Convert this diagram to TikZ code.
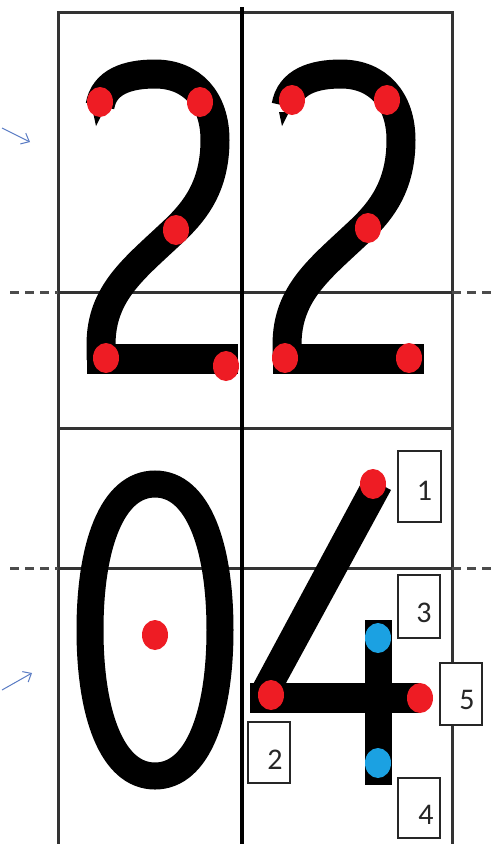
\documentclass[tikz,border=0pt]{standalone}
\usepackage{fontspec}
\setmainfont{Carlito}
\usetikzlibrary{calc,arrows.meta}
\definecolor{dotred}{HTML}{EE1C24}
\definecolor{dotblue}{HTML}{1BA1E2}
\definecolor{pen}{HTML}{5A7CC4}
\tikzset{
  gridline/.style={line width=3pt, draw=black!80},
  midline/.style={line width=3.5pt, draw=black},
  dashline/.style={line width=3pt, draw=black!70, dash pattern=on 9pt off 6pt},
  digit/.style={line width=29pt, draw=black},
  numbox/.style={draw=black!85, line width=1.6pt, fill=white, inner sep=0pt},
  numtxt/.style={font=\fontsize{30}{30}\selectfont, inner sep=0pt, text=black!85},
  penarrow/.style={draw=pen, line width=1pt, -{Straight Barb[length=7pt,width=12pt]}}
}
\newcommand\rdot[1]{\fill[dotred] #1 ellipse[x radius=13pt, y radius=15pt];}
\newcommand\bdot[1]{\fill[dotblue] #1 ellipse[x radius=13pt, y radius=15pt];}
\newcommand\twoshape{%
  \draw[digit] (100,106) .. controls (104,82) and (127,74) .. (155,74)
     .. controls (192,74) and (215,100) .. (215,140)
     .. controls (215,185) and (196,210) .. (175,230)
     .. controls (135,268) and (101,292) .. (101,345) -- (101,360);
  \fill[black] (93,112) -- (96,126) -- (103,112) -- cycle;
  \fill[black] (87,344) rectangle (238,374);
}
\begin{document}
\begin{tikzpicture}[x=1pt,y=-1pt]
\useasboundingbox (0,0) rectangle (494,844);
\fill[white] (0,0) rectangle (494,844);
% grid
\draw[gridline] (58,846) -- (58,12) -- (452,12) -- (452,846);
\draw[gridline] (58,428) -- (452,428);
\draw[gridline] (58,292) -- (452,292);
\draw[gridline] (58,568) -- (452,568);
\draw[dashline] (10,292) -- (58,292);
\draw[dashline] (452,292) -- (494,292);
\draw[dashline] (10,568) -- (58,568);
\draw[dashline] (452,568) -- (494,568);
\draw[midline] (242,7) -- (242,846);
% pen arrows
\draw[penarrow] (2,128) -- (30,142);
\draw[penarrow] (2,690) -- (32,673);
% left 2
\twoshape
\rdot{(100,102)} \rdot{(200,102)} \rdot{(176,230)} \rdot{(106,358)} \rdot{(226,366)}
% right 2
\begin{scope}[shift={(186,0)}]
\twoshape
\end{scope}
\rdot{(292,100)} \rdot{(387,100)} \rdot{(368,228)} \rdot{(285,358)} \rdot{(409,358)}
% zero (slightly squared oval)
\draw[line width=27pt] (155,484) .. controls (198,484) and (220,546) .. (220,630)
   .. controls (220,714) and (198,776) .. (155,776)
   .. controls (112,776) and (90,714) .. (90,630)
   .. controls (90,546) and (112,484) .. (155,484) -- cycle;
\rdot{(155,635)}
% four
\fill[black] (250,690) -- (365,476) -- (391,490) -- (274,705) -- cycle;
\fill[black] (250,683) rectangle (420,713);
\fill[black] (365,620) rectangle (392,785);
\rdot{(373,484)} \rdot{(271,695)} \rdot{(420,698)}
\bdot{(378,638)} \bdot{(378,763)}
% numbered boxes
\node[numbox, minimum width=43pt, minimum height=71pt] (b1) at (419.5,486.5) {};
\node[numbox, minimum width=42pt, minimum height=63pt] (b3) at (419,606.5) {};
\node[numbox, minimum width=42pt, minimum height=62pt] (b5) at (461,694) {};
\node[numbox, minimum width=42pt, minimum height=61pt] (b2) at (269,752.5) {};
\node[numbox, minimum width=42pt, minimum height=60pt] (b4) at (419,808) {};
\node[numtxt] (t1) at ($(b1.center)+(5,4)$) {1};
\node[numtxt] (t3) at ($(b3.center)+(5,6)$) {3};
\node[numtxt] (t5) at ($(b5.center)+(6,6)$) {5};
\node[numtxt] (t2) at ($(b2.center)+(6,7)$) {2};
\node[numtxt] (t4) at ($(b4.center)+(7,7)$) {4};
\end{tikzpicture}
\end{document}
